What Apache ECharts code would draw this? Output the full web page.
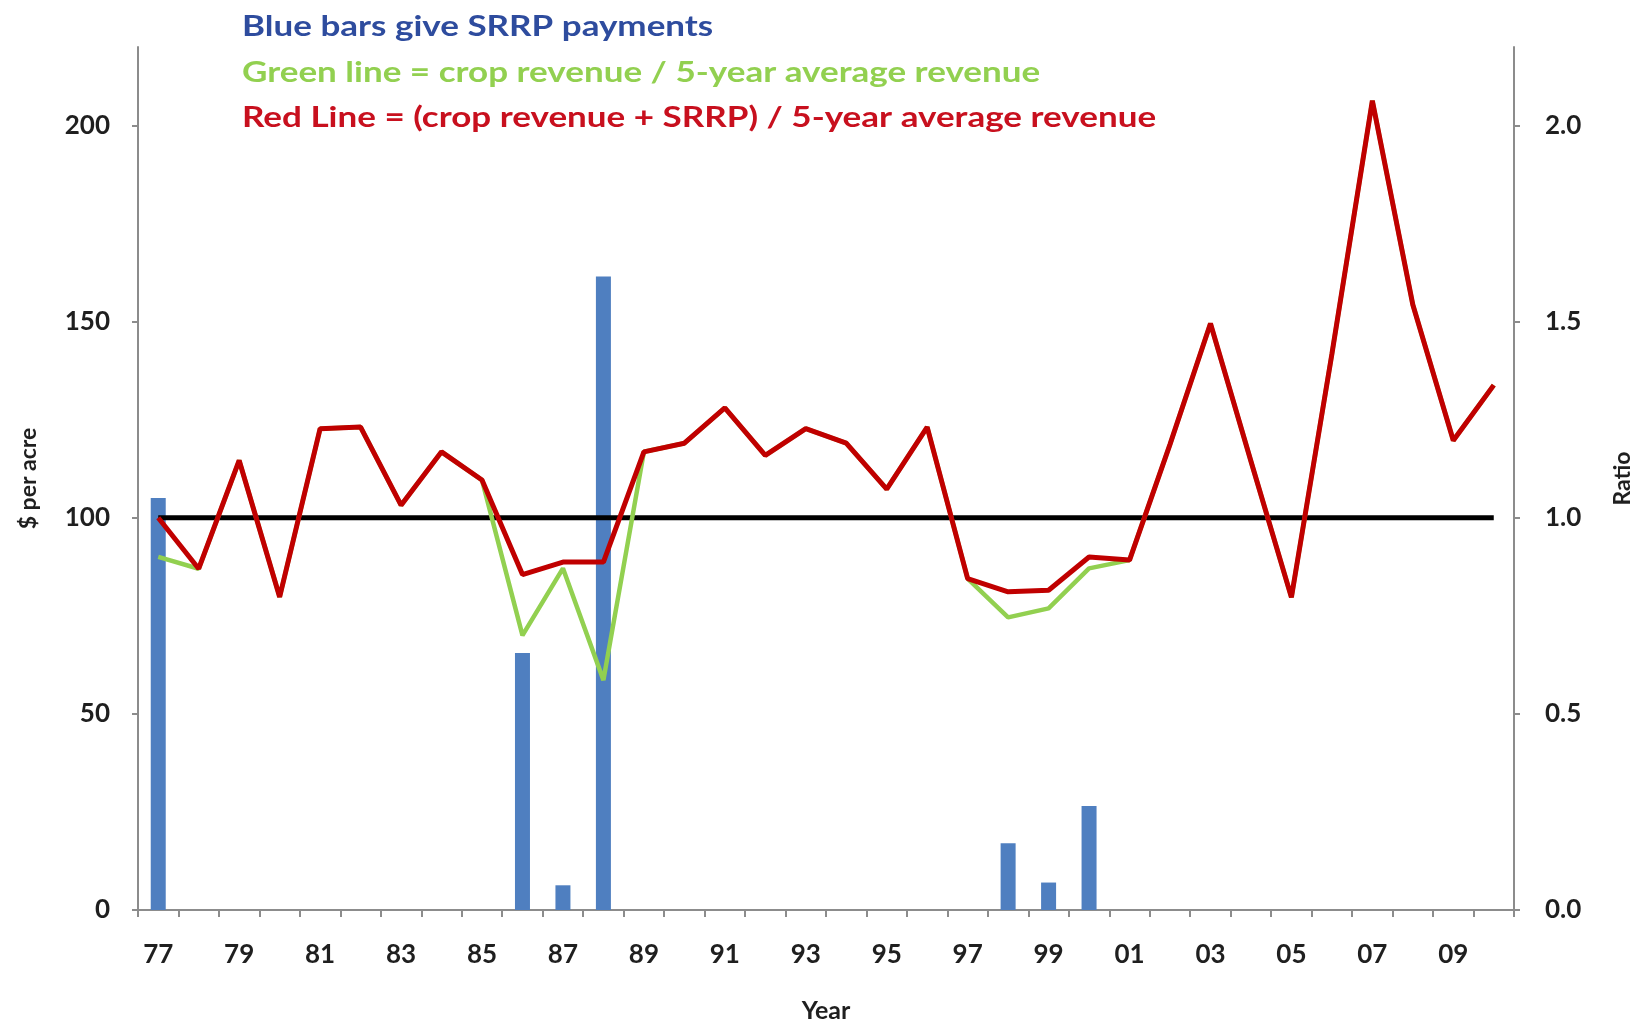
<!DOCTYPE html>
<html>
<head>
<meta charset="utf-8">
<script src="https://cdn.jsdelivr.net/npm/echarts@6/dist/echarts.min.js"></script>
<style>
  html, body { margin: 0; padding: 0; background: #ffffff; }
  #chart { width: 1638px; height: 1021px; }
</style>
</head>
<body>
<div id="chart"></div>
<script>
// Years 1977-2010
const years = ['77','78','79','80','81','82','83','84','85','86','87','88','89','90','91','92','93','94','95','96','97','98','99','00','01','02','03','04','05','06','07','08','09','10'];

// SRRP payments, $ per acre (left axis)
const srrpPayments = [105, 0, 0, 0, 0, 0, 0, 0, 0, 65.5, 6.3, 161.5, 0, 0, 0, 0, 0, 0, 0, 0, 0, 17, 7, 26.5, 0, 0, 0, 0, 0, 0, 0, 0, 0, 0];

// Crop revenue / 5-year average revenue (right axis)
const greenRatio = [0.90, 0.87, 1.146, 0.798, 1.227, 1.231, 1.032, 1.168, 1.096, 0.70, 0.871, 0.586, 1.168, 1.19, 1.28, 1.159, 1.227, 1.19, 1.073, 1.231, 0.845, 0.746, 0.769, 0.871, 0.892, 1.187, 1.495, 1.144, 0.797, 1.417, 2.063, 1.543, 1.197, 1.338];

// (Crop revenue + SRRP) / 5-year average revenue (right axis)
const redRatio = [1.0, 0.87, 1.146, 0.798, 1.227, 1.231, 1.032, 1.168, 1.096, 0.855, 0.887, 0.887, 1.168, 1.19, 1.28, 1.159, 1.227, 1.19, 1.073, 1.231, 0.845, 0.811, 0.815, 0.90, 0.892, 1.187, 1.495, 1.144, 0.797, 1.417, 2.063, 1.543, 1.197, 1.338];

// Reference ratio line
const baseline = years.map(() => 1.0);

const leftTicks = [0, 50, 100, 150, 200];
const rightTicks = [0.0, 0.5, 1.0, 1.5, 2.0];

const titleLines = [
  'Blue bars give SRRP payments',
  'Green line = crop revenue / 5-year average revenue',
  'Red Line = (crop revenue + SRRP) / 5-year average revenue'
];
const titleColors = ['#2e4c9e', '#92d050', '#c8101e'];

const FONT = 'Lato';
const labelStyle = { fontFamily: FONT, fontWeight: 'bold', fontSize: 26, color: '#1f1f1f' };
const axisLineStyle = { color: '#8c8c8c', width: 2 };

const chart = echarts.init(document.getElementById('chart'), null, { renderer: 'canvas' });

const titleGraphics = titleLines.map((t, i) => ({
  type: 'text',
  x: 242,
  y: [27, 73, 118][i],
  scaleX: 1.25,
  scaleY: 1,
  silent: true,
  style: {
    text: t,
    fill: titleColors[i],
    font: 'bold 28px ' + FONT,
    textAlign: 'left',
    textVerticalAlign: 'middle'
  }
}));

chart.setOption({
  backgroundColor: '#ffffff',
  animation: false,
  graphic: titleGraphics,
  grid: { left: 138, right: 124, top: 47, bottom: 111, containLabel: false, outerBoundsMode: 'none' },
  xAxis: {
    type: 'category',
    data: years,
    boundaryGap: true,
    name: 'Year',
    nameLocation: 'middle',
    nameGap: 88,
    nameTextStyle: { fontFamily: FONT, fontWeight: 'bold', fontSize: 25, color: '#1f1f1f' },
    axisLine: { show: true, lineStyle: axisLineStyle },
    axisTick: { show: true, inside: false, length: 7, alignWithLabel: false, interval: 0, lineStyle: axisLineStyle },
    axisLabel: Object.assign({ interval: 1, margin: 32 }, labelStyle),
    splitLine: { show: false }
  },
  yAxis: [
    {
      type: 'value',
      min: 0, max: 220, interval: 50,
      name: '$ per acre',
      nameLocation: 'middle',
      nameRotate: 90,
      nameGap: 98,
      nameTextStyle: { fontFamily: FONT, fontWeight: 'bold', fontSize: 23, color: '#1f1f1f' },
      axisLine: { show: true, lineStyle: axisLineStyle },
      axisTick: { show: true, length: 6, lineStyle: axisLineStyle },
      axisLabel: Object.assign({ margin: 28, showMaxLabel: false, formatter: v => (leftTicks.indexOf(v) >= 0 ? String(v) : '') }, labelStyle),
      splitLine: { show: false }
    },
    {
      type: 'value',
      min: 0, max: 2.2, interval: 0.5,
      position: 'right',
      name: 'Ratio',
      nameLocation: 'middle',
      nameRotate: 90,
      nameGap: 97,
      nameTextStyle: { fontFamily: FONT, fontWeight: 'bold', fontSize: 23, color: '#1f1f1f' },
      axisLine: { show: true, lineStyle: axisLineStyle },
      axisTick: { show: true, length: 6, lineStyle: axisLineStyle },
      axisLabel: Object.assign({ margin: 31, showMaxLabel: false, formatter: v => (rightTicks.indexOf(Math.round(v * 10) / 10) >= 0 && Math.abs(v * 2 - Math.round(v * 2)) < 1e-6 ? v.toFixed(1) : '') }, labelStyle),
      splitLine: { show: false }
    }
  ],
  series: [
    {
      name: 'SRRP payments',
      type: 'bar',
      yAxisIndex: 0,
      data: srrpPayments,
      barWidth: 15,
      itemStyle: { color: '#4f7fc0' },
      z: 1
    },
    {
      name: 'Baseline',
      type: 'line',
      yAxisIndex: 1,
      data: baseline,
      symbol: 'none',
      lineStyle: { color: '#000000', width: 5 },
      z: 2
    },
    {
      name: 'Green ratio',
      type: 'line',
      yAxisIndex: 1,
      data: greenRatio,
      symbol: 'none',
      lineStyle: { color: '#92d050', width: 4.5 },
      z: 3
    },
    {
      name: 'Red ratio',
      type: 'line',
      yAxisIndex: 1,
      data: redRatio,
      symbol: 'none',
      lineStyle: { color: '#c00000', width: 5 },
      z: 4
    }
  ]
});
</script>
</body>
</html>
